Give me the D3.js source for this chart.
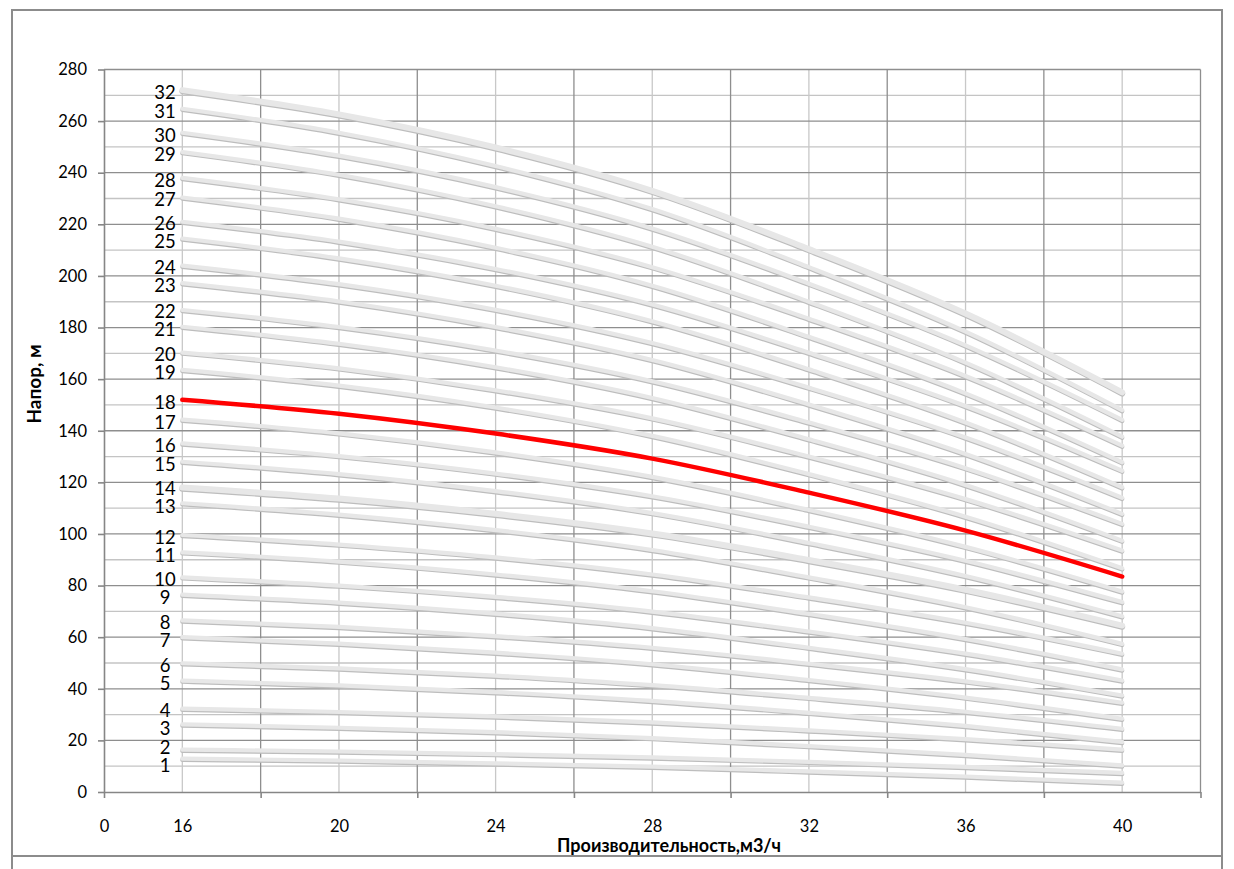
<!DOCTYPE html>
<html><head><meta charset="utf-8">
<script src="https://cdn.jsdelivr.net/npm/d3@7"></script>
<style>
body{margin:0;background:#fff}
text{font-family:Lato,"Open Sans",sans-serif;fill:#000}
</style>
</head><body>
<svg id="c" width="1234" height="869"></svg>
<script>
// ---- data ----
const flows = [16, 20, 24, 28, 32, 36, 40];
const stageLabels = d3.range(1, 33).map(String);
const highlightStage = "18";
const heads = [
  [12.9, 12.2, 11.1, 9.8, 8.0, 6.0, 3.6],
  [16.4, 15.7, 14.7, 13.4, 11.7, 9.7, 7.4],
  [26.2, 24.9, 23.2, 20.9, 17.8, 14.4, 10.3],
  [32.3, 31.0, 29.3, 27.0, 23.9, 20.5, 16.4],
  [43.2, 41.3, 38.7, 35.3, 30.7, 25.6, 19.4],
  [49.9, 47.9, 45.1, 41.4, 36.5, 31.1, 24.5],
  [60.0, 57.5, 54.0, 49.5, 43.4, 36.6, 28.4],
  [66.5, 64.0, 60.4, 55.9, 49.7, 42.9, 34.6],
  [76.5, 73.4, 69.1, 63.5, 55.9, 47.6, 37.4],
  [83.2, 80.0, 75.6, 69.9, 62.2, 53.6, 43.2],
  [92.9, 89.3, 84.3, 77.8, 69.0, 59.3, 47.5],
  [99.6, 95.9, 90.9, 84.3, 75.4, 65.6, 53.6],
  [111.9, 107.5, 101.5, 93.8, 83.2, 71.6, 57.4],
  [118.0, 113.7, 107.8, 100.2, 89.9, 78.4, 64.5],
  [128.0, 123.2, 116.6, 108.1, 96.5, 83.7, 68.1],
  [135.1, 130.2, 123.4, 114.6, 102.8, 89.6, 73.6],
  [144.3, 139.0, 131.6, 122.1, 109.3, 95.0, 77.7],
  [152.0, 146.6, 138.9, 129.2, 116.0, 101.3, 83.5],
  [163.6, 157.5, 149.0, 138.0, 123.2, 106.7, 86.7],
  [170.3, 164.2, 155.7, 144.8, 130.0, 113.5, 93.6],
  [180.3, 173.7, 164.6, 152.7, 136.7, 119.0, 97.4],
  [186.8, 180.2, 171.1, 159.2, 143.2, 125.5, 103.9],
  [197.2, 190.1, 180.2, 167.4, 150.2, 131.0, 107.8],
  [204.0, 196.8, 186.9, 174.0, 156.7, 137.4, 114.0],
  [214.5, 206.8, 196.2, 182.4, 163.8, 143.2, 118.1],
  [221.0, 213.3, 202.7, 188.9, 170.2, 149.6, 124.5],
  [230.4, 222.2, 210.9, 196.2, 176.4, 154.5, 127.8],
  [238.0, 229.7, 218.3, 203.4, 183.4, 161.2, 134.2],
  [248.0, 239.2, 227.0, 211.3, 190.0, 166.4, 137.7],
  [255.5, 246.6, 234.4, 218.4, 197.0, 173.1, 144.2],
  [264.8, 255.5, 242.6, 225.9, 203.4, 178.4, 148.0],
  [272.0, 262.6, 249.8, 233.0, 210.4, 185.4, 154.9]
];
const thickStages = ["32", "14"];
const xTickMarks = [14, 18, 22, 26, 30, 34, 38, 42];
const xTickLabelValues = [14, 16, 20, 24, 28, 32, 36, 40];
const xTickLabelText = ["0", "16", "20", "24", "28", "32", "36", "40"];
const xMinorGrid = [16, 20, 24, 28, 32, 36, 40];
const yMajor = d3.range(0, 281, 20);
const yMinor = d3.range(10, 280, 20);
const xTitle = "Производительность,м3/ч";
const yTitle = "Напор, м";

// ---- drawing ----
const svg = d3.select("#c");
const L = 104, R = 1200.5, T = 69.5, B = 792;
const x = d3.scaleLinear().domain([14, 42]).range([L, R]);
const y = d3.scaleLinear().domain([0, 280]).range([B, T]);

// outer frame
svg.append("rect").attr("x", 12).attr("y", 10).attr("width", 1210).attr("height", 846)
  .attr("fill", "#fff").attr("stroke", "#8c8c8c").attr("stroke-width", 2);
svg.append("path").attr("d", "M12,856V869M1222,856V869").attr("stroke", "#8c8c8c").attr("stroke-width", 2);

const g = svg.append("g");
g.selectAll(".hmin").data(yMinor).join("line")
  .attr("x1", L).attr("x2", R).attr("y1", d => y(d)).attr("y2", d => y(d))
  .attr("stroke", "#c4c4c4").attr("stroke-width", 1.3);
g.selectAll(".vmin").data(xMinorGrid).join("line")
  .attr("y1", T).attr("y2", B).attr("x1", d => x(d)).attr("x2", d => x(d))
  .attr("stroke", "#c8c8c8").attr("stroke-width", 1.3);
g.selectAll(".hmaj").data(yMajor.filter(d => d > 0)).join("line")
  .attr("x1", L).attr("x2", R).attr("y1", d => y(d)).attr("y2", d => y(d))
  .attr("stroke", "#8e8e8e").attr("stroke-width", 1.3);
g.selectAll(".vmaj").data(xTickMarks.filter(d => d > 14)).join("line")
  .attr("y1", T).attr("y2", B).attr("x1", d => x(d)).attr("x2", d => x(d))
  .attr("stroke", "#8e8e8e").attr("stroke-width", 1.3);

// axes
const yAxis = d3.axisLeft(y).tickValues(yMajor).tickSize(6).tickSizeOuter(0).tickPadding(11);
const ya = svg.append("g").attr("transform", `translate(${L},0)`).call(yAxis);
ya.selectAll("text").style("font-size", "16.5px");
const xAxisMarks = d3.axisBottom(x).tickValues(xTickMarks).tickSize(6).tickSizeOuter(0).tickFormat("");
svg.append("g").attr("transform", `translate(0,${B})`).call(xAxisMarks);
const xAxisLabels = d3.axisBottom(x).tickValues(xTickLabelValues).tickSize(0).tickPadding(28)
  .tickFormat((d, i) => xTickLabelText[i]);
const xl = svg.append("g").attr("transform", `translate(0,${B})`).call(xAxisLabels);
xl.select(".domain").remove();
xl.selectAll("text").style("font-size", "16.5px");
svg.selectAll(".domain, .tick line").attr("stroke", "#868686").attr("stroke-width", 1.6);

// curves
const line = d3.line().x((d, i) => x(flows[i])).y(d => y(d)).curve(d3.curveMonotoneX);
const cg = svg.append("g");
heads.forEach((h, k) => {
  const st = stageLabels[k];
  if (st === highlightStage) return;
  const w = thickStages.includes(st) ? 6 : 4.2;
  cg.append("path").attr("d", line(h)).attr("fill", "none")
    .attr("stroke", "#bdbdbd").attr("stroke-width", w).attr("stroke-linecap", "round")
    .attr("transform", "translate(0,1.2)");
  cg.append("path").attr("d", line(h)).attr("fill", "none")
    .attr("stroke", "#e7e7e7").attr("stroke-width", w).attr("stroke-linecap", "round");
});
const hi = heads[stageLabels.indexOf(highlightStage)];
cg.append("path").attr("d", line(hi)).attr("fill", "none")
  .attr("stroke", "#ff0000").attr("stroke-width", 4.5).attr("stroke-linecap", "round");

// stage labels: start at curve start, then spread apart to a minimum gap
const labelPos = heads.map(h => y(h[0]) + 2);
const minGap = 18;
for (let it = 0; it < 60; it++) {
  for (let i = 0; i < labelPos.length - 1; i++) {
    const gap = labelPos[i] - labelPos[i + 1];
    if (gap < minGap) {
      const push = (minGap - gap) / 2;
      labelPos[i] += push; labelPos[i + 1] -= push;
    }
  }
}
svg.append("g").selectAll("text").data(heads).join("text")
  .attr("x", 165).attr("y", (d, i) => labelPos[i])
  .attr("text-anchor", "middle").attr("dominant-baseline", "central")
  .style("font-size", "18.5px")
  .text((d, i) => stageLabels[i]);

// titles
svg.append("text").attr("x", 669).attr("y", 852).attr("text-anchor", "middle")
  .style("font-size", "18px").style("font-weight", "bold").text(xTitle);
svg.append("text").attr("transform", "translate(41,384) rotate(-90)").attr("text-anchor", "middle")
  .style("font-size", "19px").style("font-weight", "bold").text(yTitle);
</script>
</body></html>
